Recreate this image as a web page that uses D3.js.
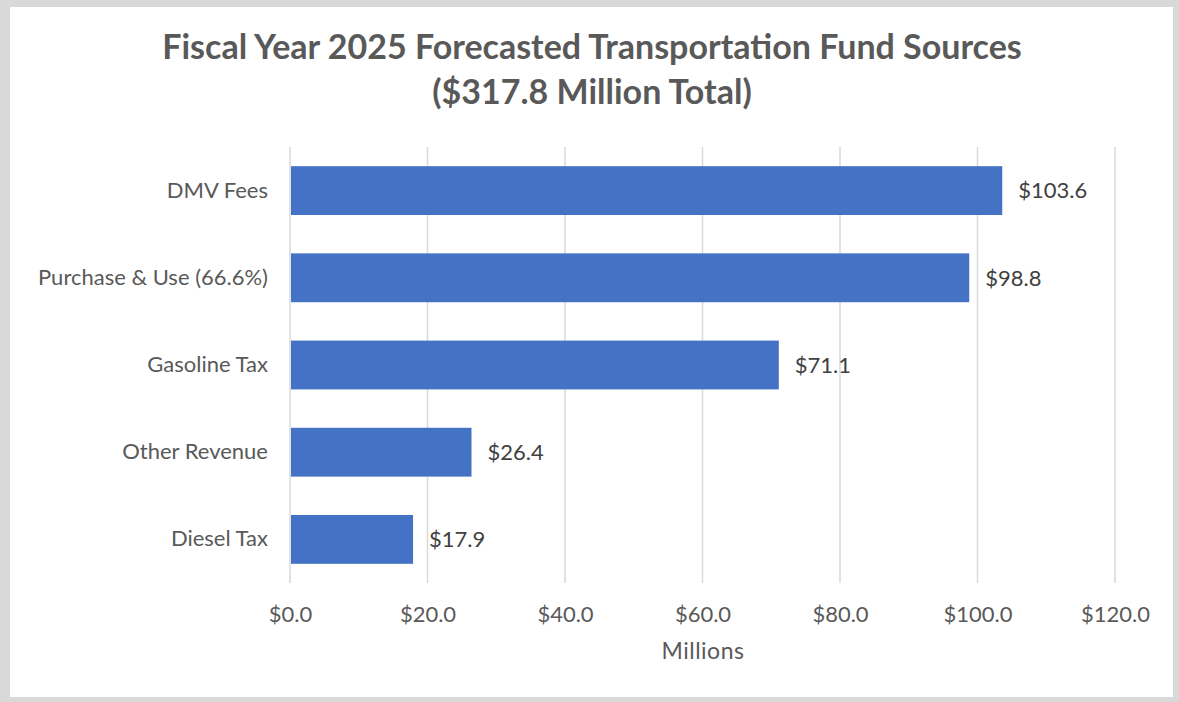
<!DOCTYPE html>
<html>
<head>
<meta charset="utf-8">
<script src="https://cdn.jsdelivr.net/npm/d3@7"></script>
<style>
  html, body { margin: 0; padding: 0; background: #d9d9d9; }
  svg { display: block; }
</style>
</head>
<body>
<div id="chart"></div>
<script>
// data
var categories = ["DMV Fees", "Purchase & Use (66.6%)", "Gasoline Tax", "Other Revenue", "Diesel Tax"];
var values = [103.6, 98.8, 71.1, 26.4, 17.9];
var xTicks = [0, 20, 40, 60, 80, 100, 120];
var titleLines = ["Fiscal Year 2025 Forecasted Transportation Fund Sources", "($317.8 Million Total)"];
var axisTitle = "Millions";

var W = 1179, H = 702;
var FONT = "Lato, 'Open Sans', sans-serif";
var margin = {left: 290, right: 64, top: 147, bottom: 119};

var svg = d3.select("#chart")
	.append("svg")
	.attr("width", W)
	.attr("height", H);

// frame
svg.append("rect")
	.attr("x", 0).attr("y", 0)
	.attr("width", W).attr("height", H)
	.style("fill", "#d9d9d9");
svg.append("rect")
	.attr("x", 10).attr("y", 7)
	.attr("width", 1163).attr("height", 690)
	.style("fill", "#ffffff");

var x = d3.scaleLinear()
	.domain([0, 120])
	.range([margin.left, W - margin.right]);

var y = d3.scaleBand()
	.domain(categories)
	.range([margin.top, H - margin.bottom])
	.paddingInner(0.44)
	.paddingOuter(0.22);

// gridlines
svg.append("g").selectAll("line")
	.data(xTicks)
	.enter()
	.append("line")
	.attr("x1", d => x(d)).attr("x2", d => x(d))
	.attr("y1", margin.top).attr("y2", H - margin.bottom)
	.style("stroke", "#d9d9d9")
	.style("stroke-width", 1.5);

// bars
svg.append("g").selectAll("rect")
	.data(values)
	.enter()
	.append("rect")
	.attr("x", x(0) + 1)
	.attr("y", (d, i) => y(categories[i]))
	.attr("width", d => x(d) - x(0) - 1)
	.attr("height", y.bandwidth())
	.style("fill", "#4472c4");

// value labels
svg.append("g").selectAll("text")
	.data(values)
	.enter()
	.append("text")
	.attr("x", d => x(d) + 16)
	.attr("y", (d, i) => y(categories[i]) + y.bandwidth() / 2)
	.attr("dy", "0.35em")
	.style("font-family", FONT)
	.style("font-size", "22px")
	.style("fill", "#404040")
	.text(d => "$" + d3.format(".1f")(d));

// category axis
var yAxis = svg.append("g")
	.attr("transform", `translate(${margin.left},0)`)
	.call(d3.axisLeft(y).tickSize(0).tickPadding(22));
yAxis.select(".domain").remove();
yAxis.selectAll("text")
	.style("font-family", FONT)
	.style("font-size", "22px")
	.style("fill", "#595959");

// value axis
var xAxis = svg.append("g")
	.attr("transform", `translate(0,${H - margin.bottom})`)
	.call(d3.axisBottom(x).tickValues(xTicks).tickSize(0).tickPadding(23)
		.tickFormat(d => "$" + d3.format(".1f")(d)));
xAxis.select(".domain").remove();
xAxis.selectAll("text")
	.style("font-family", FONT)
	.style("font-size", "22px")
	.style("fill", "#595959");

svg.append("text")
	.attr("x", 703)
	.attr("y", 659)
	.attr("text-anchor", "middle")
	.style("font-family", FONT)
	.style("font-size", "23px")
	.style("letter-spacing", "0.5px")
	.style("fill", "#595959")
	.text(axisTitle);

// title
svg.append("g").selectAll("text")
	.data(titleLines)
	.enter()
	.append("text")
	.attr("x", 592)
	.attr("y", (d, i) => 59 + i * 45)
	.attr("text-anchor", "middle")
	.style("font-family", FONT)
	.style("font-weight", "bold")
	.style("font-size", "34px")
	.style("fill", "#595959")
	.text(d => d);
</script>
</body>
</html>
